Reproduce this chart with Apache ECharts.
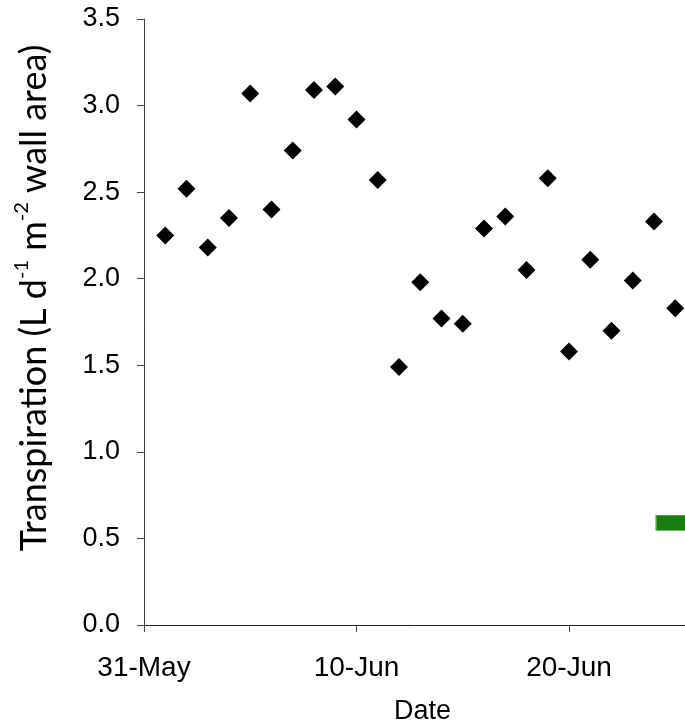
<!DOCTYPE html>
<html>
<head>
<meta charset="utf-8">
<script src="https://cdn.jsdelivr.net/npm/echarts@6/dist/echarts.min.js"></script>
<style>
  html, body { margin: 0; padding: 0; background: #fff; }
  #chart { width: 685px; height: 726px; }
</style>
</head>
<body>
<div id="chart"></div>
<script>
// Days counted from 31 May (day 0 = 31-May)
const dayNumbers = [1, 2, 3, 4, 5, 6, 7, 8, 9, 10, 11, 12, 13, 14, 15, 16, 17, 18, 19, 20, 21, 22, 23, 24, 25];
// Daily transpiration, L d-1 m-2 wall area
const transpiration = [2.25, 2.52, 2.18, 2.35, 3.07, 2.40, 2.74, 3.09, 3.11, 2.92, 2.57, 1.49, 1.98, 1.77, 1.74, 2.29, 2.36, 2.05, 2.58, 1.58, 2.11, 1.70, 1.99, 2.33, 1.83];
// Second series: a single green bar-shaped mark
const greenDays = [25];
const greenValues = [0.59];
// Date tick labels at day 0, 10 and 20
const tickDays = [0, 10, 20];
const tickLabels = ['31-May', '10-Jun', '20-Jun'];

const chart = echarts.init(document.getElementById('chart'), null, { renderer: 'canvas' });

const axisFont = '"Liberation Sans", Arial, sans-serif';
const titleFont = 'Lato, "Open Sans", sans-serif';

chart.setOption({
  animation: false,
  backgroundColor: '#ffffff',
  grid: { left: 144, top: 19, right: 0, bottom: 101, containLabel: false },
  xAxis: {
    type: 'value',
    min: 0,
    max: 25.46,
    interval: 10,
    axisLine: { show: true, onZero: false, lineStyle: { color: '#222', width: 1 } },
    axisTick: { show: true, inside: false, length: 7, lineStyle: { color: '#444' } },
    splitLine: { show: false },
    axisLabel: {
      margin: 29,
      color: '#000',
      fontSize: 28,
      fontFamily: axisFont,
      showMaxLabel: false,
      formatter: function (v) {
        const i = tickDays.indexOf(v);
        return i >= 0 ? tickLabels[i] : '';
      }
    }
  },
  yAxis: {
    type: 'value',
    min: 0,
    max: 3.5,
    interval: 0.5,
    axisLine: { show: true, lineStyle: { color: '#444', width: 1 } },
    axisTick: { show: true, inside: false, length: 7, lineStyle: { color: '#444' } },
    splitLine: { show: false },
    axisLabel: {
      margin: 24,
      color: '#000',
      fontSize: 27,
      fontFamily: axisFont,
      formatter: function (v) { return v.toFixed(1); }
    }
  },
  graphic: [
    {
      type: 'text',
      x: 34,
      y: 298,
      rotation: Math.PI / 2,
      style: {
        text: 'Transpiration (L d{sup|-1} m{sup|-2} wall area)',
        fontSize: 36,
        fontFamily: titleFont,
        fill: '#000',
        align: 'center',
        verticalAlign: 'middle',
        rich: {
          sup: { fontSize: 20, fontFamily: titleFont, fill: '#000', verticalAlign: 'top', lineHeight: 44 }
        }
      }
    },
    {
      type: 'text',
      x: 422.5,
      y: 712,
      style: {
        text: 'Date',
        fontSize: 27,
        fontFamily: axisFont,
        fill: '#000',
        align: 'center',
        verticalAlign: 'middle'
      }
    }
  ],
  series: [
    {
      name: 'Transpiration',
      type: 'scatter',
      symbol: 'diamond',
      symbolSize: [18, 18],
      itemStyle: { color: '#000', opacity: 1 },
      data: dayNumbers.map((d, i) => [d, transpiration[i]])
    },
    {
      name: 'Green',
      type: 'scatter',
      symbol: 'rect',
      symbolSize: [38, 15],
      clip: false,
      itemStyle: { color: '#187d0f', borderColor: '#5aa050', borderWidth: 1, opacity: 1 },
      data: greenDays.map((d, i) => [d, greenValues[i]])
    }
  ]
});
</script>
</body>
</html>
